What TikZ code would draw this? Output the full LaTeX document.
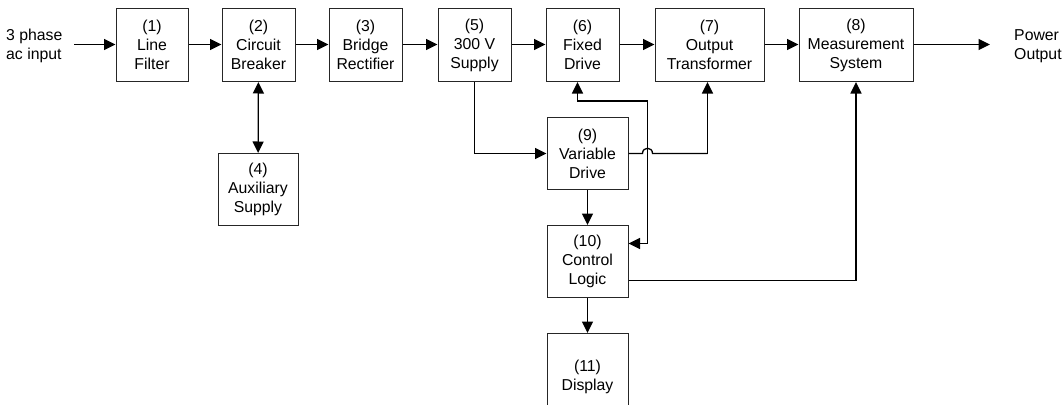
\documentclass[tikz,border=0pt]{standalone}
\usepackage{fontspec}
\setmainfont{Liberation Sans}
\usetikzlibrary{arrows.meta}
\begin{document}
\begin{tikzpicture}[x=1pt,y=-1pt,
  box/.style={draw=black!85, line width=1pt, align=center, inner sep=0pt,
    font=\fontsize{15.8}{19}\selectfont},
  lbl/.style={align=left, inner sep=0pt, font=\fontsize{15.8}{19.5}\selectfont},
  tip/.tip={Triangle[length=11.5pt,width=11pt]},
  conn/.style={draw=black, line width=1.3pt, -tip},
  bconn/.style={draw=black, line width=1.3pt, tip-tip},
  plain/.style={draw=black, line width=1.3pt}]
\useasboundingbox (0,0) rectangle (1064,404);
\clip (0,0) rectangle (1064,404);
% boxes
\node[box, minimum width=72pt, minimum height=73pt] (b1) at (152,45) {(1)\\Line\\Filter};
\node[box, minimum width=73pt, minimum height=73pt] (b2) at (258.5,45) {(2)\\Circuit\\Breaker};
\node[box, minimum width=73pt, minimum height=73pt] (b3) at (365.5,45) {(3)\\Bridge\\Rectifier};
\node[box, minimum width=73pt, minimum height=73pt] (b5) at (474.5,45) {(5)\\300 V\\Supply};
\node[box, minimum width=73pt, minimum height=73pt] (b6) at (582.5,45) {(6)\\Fixed\\Drive};
\node[box, minimum width=109pt, minimum height=73pt] (b7) at (709.5,45) {(7)\\Output\\Transformer};
\node[box, minimum width=114pt, minimum height=73pt] (b8) at (856,45) {(8)\\Measurement\\System};
\node[box, minimum width=80pt, minimum height=72pt] (b4) at (258,189.5) {(4)\\Auxiliary\\Supply};
\node[box, minimum width=81pt, minimum height=72pt] (b9) at (587.5,153.5) {(9)\\Variable\\Drive};
\node[box, minimum width=81pt, minimum height=72pt] (b10) at (587.5,261.5) {(10)\\Control\\Logic};
\node[box, minimum width=81pt, minimum height=86pt] (b11) at (587.5,376.5) {(11)\\Display};
% labels
\node[lbl, anchor=west] (inlbl) at (6,46) {3 phase\\ac input};
\node[lbl, anchor=west] (outlbl) at (1014,46) {Power\\Output};
\coordinate (inp) at (74,44.5);
\coordinate (outp) at (990,44.5);
% main row
\draw[conn] (inp) -- (b1.west |- inp);
\draw[conn] (b1.east |- inp) -- (b2.west |- inp);
\draw[conn] (b2.east |- inp) -- (b3.west |- inp);
\draw[conn] (b3.east |- inp) -- (b5.west |- inp);
\draw[conn] (b5.east |- inp) -- (b6.west |- inp);
\draw[conn] (b6.east |- inp) -- (b7.west |- inp);
\draw[conn] (b7.east |- inp) -- (b8.west |- inp);
\draw[conn] (b8.east |- inp) -- (outp);
% side connections
\draw[bconn] (b2) -- (b4);
\draw[conn] (b5.south) |- (b9.west);
\draw[bconn] ([xshift=-5pt]b6.south) -- ++(0,19) -| (647.5,243.5) -- (b10.east |- 0,243.5);
\draw[plain] (b9.east) -- (642.5,153.5) .. controls (642.5,146.5) and (652.5,146.5) .. (652.5,153.5) -- (707.5,153.5);
\draw[conn] (707.5,153.5) -- (b7.south -| 707.5,0);
\draw[conn] (b9) -- (b10);
\draw[conn] (b10) -- (b11);
\draw[conn] (b10.east |- 0,280.5) -| (b8.south);
\end{tikzpicture}
\end{document}
